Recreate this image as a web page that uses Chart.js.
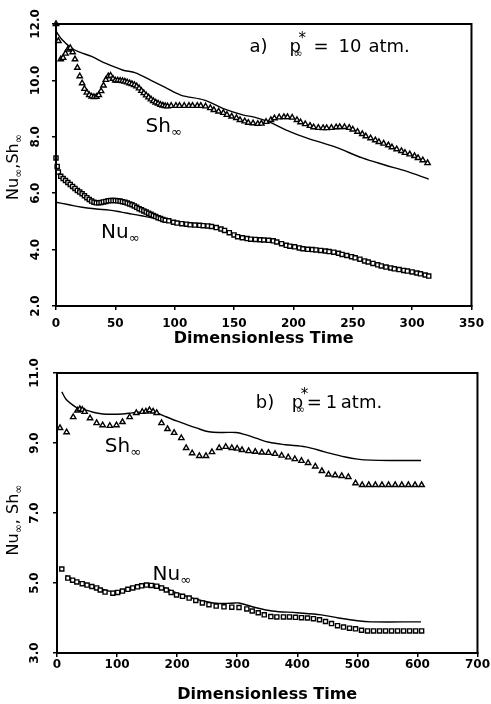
<!DOCTYPE html>
<html><head><meta charset="utf-8">
<script src="https://cdn.jsdelivr.net/npm/chart.js@4.4.1/dist/chart.umd.min.js"></script>
<style>
html,body{margin:0;padding:0;background:#fff;}
canvas{display:block;}
</style></head><body>
<canvas id="ca" width="491" height="352"></canvas>
<canvas id="cb" width="491" height="352"></canvas>
<script>
// ---------- Panel a: p* = 10 atm ----------
const xTicksA = [0, 50, 100, 150, 200, 250, 300, 350];
const yTicksA = [2, 4, 6, 8, 10, 12];
const shA_markT = [0,2,4,6,8,10,12,14,16,18,20,22,24,26,28,30,32,34,36,38,40,42,44,46,48,50,52,54,56,58,60,62,64,66,68,70,72,74,76,78,80,82,84,86,88,90,92,94,
  97,101,104,108,112,115,119,122,126,130,133,137,141,144,148,152,155,159,162,166,170,173,177,181,184,188,192,195,199,203,206,210,214,217,221,225,228,232,236,239,243,247,250,254,258,261,265,269,272,276,280,283,287,291,294,298,302,305,309,313];
const shA_markV = [12.0,11.4,10.75,10.8,10.95,11.1,11.15,11.0,10.75,10.45,10.15,9.9,9.7,9.57,9.48,9.43,9.41,9.42,9.48,9.62,9.82,10.02,10.15,10.17,10.06,10.0,10.0,9.99,9.98,9.96,9.93,9.9,9.87,9.84,9.79,9.72,9.63,9.55,9.47,9.4,9.33,9.27,9.22,9.18,9.14,9.11,9.09,9.08,
  9.1,9.1,9.1,9.1,9.1,9.1,9.1,9.1,9.08,9.02,8.95,8.9,8.85,8.78,8.72,8.67,8.6,8.55,8.5,8.48,8.46,8.47,8.53,8.6,8.66,8.69,8.7,8.7,8.68,8.6,8.52,8.45,8.39,8.34,8.32,8.31,8.31,8.32,8.34,8.35,8.35,8.32,8.26,8.18,8.1,8.02,7.95,7.88,7.82,7.76,7.7,7.63,7.56,7.5,7.43,7.38,7.32,7.25,7.17,7.07];
const shA_lineT = [0,5,13,20,30,42,56,67,80,92,105,125,141,158,167,180,194,211,235,258,277,295,314];
const shA_lineV = [11.75,11.45,11.15,11.0,10.85,10.6,10.37,10.27,10.0,9.75,9.48,9.3,9.0,8.77,8.7,8.52,8.24,7.96,7.64,7.25,7.0,6.78,6.5];
const nuA_markT = [0,1,2,4,6,8,10,12,14,16,18,20,22,24,26,28,30,32,34,36,38,40,42,44,46,48,50,52,54,56,58,60,62,64,66,68,70,72,74,76,78,80,82,84,86,88,90,92,
  95,99,102,106,110,113,117,121,124,128,131,135,139,142,146,150,153,157,161,164,168,172,175,179,183,186,190,194,197,201,205,208,212,216,219,223,227,230,234,238,241,245,249,252,256,260,263,267,271,274,278,282,285,289,293,296,300,304,307,311,314];
const nuA_markV = [7.25,6.95,6.75,6.6,6.52,6.45,6.38,6.31,6.24,6.17,6.1,6.04,5.98,5.91,5.84,5.78,5.72,5.68,5.66,5.66,5.67,5.69,5.71,5.73,5.74,5.74,5.74,5.73,5.72,5.7,5.68,5.65,5.62,5.59,5.55,5.5,5.45,5.41,5.37,5.33,5.29,5.25,5.21,5.17,5.13,5.1,5.07,5.04,
  5.02,4.97,4.94,4.92,4.9,4.88,4.87,4.86,4.85,4.84,4.82,4.78,4.73,4.68,4.6,4.52,4.46,4.42,4.39,4.37,4.36,4.35,4.34,4.33,4.31,4.27,4.21,4.15,4.12,4.1,4.06,4.03,4.01,4.0,3.99,3.97,3.95,3.93,3.91,3.87,3.83,3.79,3.75,3.71,3.66,3.6,3.56,3.51,3.46,3.42,3.38,3.35,3.32,3.29,3.26,3.24,3.21,3.17,3.14,3.1,3.06];
const nuA_lineT = [0,10,22,34,45,55,64,72,80,90,100,115,128,140,150,160,175,185,195,210,225,240,255,270,285,300,314];
const nuA_lineV = [5.68,5.6,5.5,5.44,5.4,5.33,5.26,5.2,5.14,5.05,4.95,4.87,4.83,4.7,4.52,4.4,4.34,4.28,4.14,4.02,3.96,3.84,3.68,3.47,3.32,3.21,3.06];

// ---------- Panel b: p* = 1 atm ----------
const xTicksB = [0, 100, 200, 300, 400, 500, 600, 700];
const yTicksB = [3, 5, 7, 9, 11];
const shB_markT = [5,16,27,34,38,42,46,55,66,76,88,99,109,121,132,142,148,154,160,166,174,184,195,207,215,225,237,248,258,270,281,291,300,308,319,330,341,352,363,374,385,396,407,418,430,441,452,463,474,485,497,508,519,530,541,552,563,574,585,596,607];
const shB_markV = [9.43,9.31,9.74,9.93,9.97,9.95,9.89,9.71,9.57,9.51,9.49,9.51,9.6,9.74,9.86,9.89,9.9,9.94,9.9,9.86,9.57,9.4,9.29,9.14,8.86,8.71,8.63,8.63,8.74,8.86,8.89,8.86,8.84,8.8,8.77,8.75,8.73,8.72,8.69,8.64,8.59,8.54,8.49,8.43,8.33,8.2,8.1,8.08,8.06,8.03,7.85,7.8,7.8,7.8,7.8,7.8,7.8,7.8,7.8,7.8,7.8];
const shB_lineT = [8,15,22,32,43,60,76,92,109,125,142,155,166,180,199,215,232,253,275,298,315,331,353,380,414,447,480,500,523,560,606];
const shB_lineV = [10.46,10.25,10.14,10.02,9.97,9.88,9.83,9.82,9.83,9.86,9.89,9.89,9.86,9.76,9.63,9.53,9.43,9.32,9.3,9.3,9.23,9.14,9.02,8.95,8.89,8.74,8.6,8.54,8.51,8.5,8.5];
const nuB_markT = [8,18,26,33,42,50,58,66,72,80,93,101,109,118,126,134,141,149,157,166,174,182,190,199,209,220,231,242,253,265,278,291,303,316,325,335,345,356,366,377,387,397,407,417,427,437,447,457,467,477,487,497,507,517,527,537,547,557,567,577,587,597,607];
const nuB_markV = [5.4,5.14,5.08,5.03,4.98,4.94,4.9,4.86,4.8,4.74,4.71,4.73,4.77,4.82,4.86,4.89,4.92,4.94,4.93,4.91,4.86,4.8,4.73,4.66,4.62,4.57,4.5,4.43,4.38,4.34,4.32,4.31,4.3,4.26,4.2,4.15,4.09,4.04,4.03,4.03,4.03,4.02,4.01,4.0,3.98,3.95,3.9,3.84,3.78,3.74,3.71,3.69,3.65,3.63,3.63,3.63,3.63,3.63,3.63,3.63,3.63,3.63,3.63];
const nuB_lineT = [15,30,50,70,90,110,130,150,170,190,210,240,265,290,303,330,358,400,440,469,500,523,606];
const nuB_lineV = [5.2,5.08,4.97,4.85,4.76,4.8,4.9,4.97,4.93,4.78,4.65,4.5,4.42,4.42,4.43,4.3,4.2,4.15,4.09,4.0,3.92,3.89,3.89];

const FONT = '"DejaVu Sans", "Liberation Sans", sans-serif';
const pts = (t, v) => t.map((x, i) => ({x: x, y: v[i]}));
const fontStr = s => (s.bold ? 'bold ' : '') + s.size + 'px ' + FONT;

function makeAnnoPlugin(labels, yTitle) {
  return {
    id: 'anno',
    afterDraw(chart) {
      const ctx = chart.ctx, a = chart.chartArea, sc = chart.scales;
      ctx.save();
      ctx.strokeStyle = '#000'; ctx.lineWidth = 2;
      ctx.strokeRect(a.left, a.top, a.right - a.left, a.bottom - a.top);
      ctx.fillStyle = '#000'; ctx.textBaseline = 'alphabetic'; ctx.textAlign = 'left';
      labels.forEach(l => {
        const x0 = sc.x.getPixelForValue(l.x), y0 = sc.y.getPixelForValue(l.y);
        let cx = x0;
        l.segs.forEach(s => {
          ctx.font = fontStr(s);
          if (typeof s.at === 'number') cx = x0 + s.at;
          ctx.fillText(s.t, cx, y0 + (s.dy || 0));
          if (!s.stay) cx += ctx.measureText(s.t).width;
        });
      });
      ctx.translate(yTitle.x, (a.top + a.bottom) / 2 + (yTitle.dyc || 0));
      ctx.rotate(-Math.PI / 2);
      let w = 0;
      yTitle.segs.forEach(s => { ctx.font = fontStr(s); w += ctx.measureText(s.t).width; });
      let cx = -w / 2;
      yTitle.segs.forEach(s => { ctx.font = fontStr(s); ctx.fillText(s.t, cx, s.dy || 0); cx += ctx.measureText(s.t).width; });
      ctx.restore();
    }
  };
}

function makeChart(id, o) {
  const markerTri = {type: 'scatter', data: pts(o.shMT, o.shMV), showLine: false, pointStyle: 'triangle', pointRadius: 3.1, pointBorderWidth: 1.4, pointBorderColor: '#000', pointBackgroundColor: '#fff', order: 1, clip: false};
  const markerSq = {type: 'scatter', data: pts(o.nuMT, o.nuMV), showLine: false, pointStyle: 'rect', pointRadius: 2.9, pointBorderWidth: 1.4, pointBorderColor: '#000', pointBackgroundColor: '#fff', order: 1, clip: false};
  const lineSh = {type: 'scatter', data: pts(o.shLT, o.shLV), showLine: true, borderColor: '#000', borderWidth: 1.4, pointRadius: 0, tension: 0.35, order: 2};
  const lineNu = {type: 'scatter', data: pts(o.nuLT, o.nuLV), showLine: true, borderColor: '#000', borderWidth: 1.4, pointRadius: 0, tension: 0.35, order: 2};
  return new Chart(document.getElementById(id), {
    type: 'scatter',
    data: {datasets: [lineSh, lineNu, markerTri, markerSq]},
    options: {
      responsive: false, animation: false, devicePixelRatio: 1,
      layout: {padding: {left: 0, right: o.padRight, top: o.padTop, bottom: 0}},
      plugins: {legend: {display: false}, tooltip: {enabled: false}},
      scales: {
        x: {type: 'linear', min: o.xTicks[0], max: o.xTicks[o.xTicks.length - 1],
          afterBuildTicks: s => { s.ticks = o.xTicks.map(v => ({value: v})); },
          afterFit: s => { s.height = o.xHeight; },
          ticks: {color: '#000', font: {family: FONT, size: 12, weight: 'bold', lineHeight: 1.2}, padding: o.xPad, maxRotation: 0, callback: v => String(v)},
          grid: {display: true, drawOnChartArea: false, drawTicks: true, tickLength: 4, color: '#000', lineWidth: 1.5},
          border: {display: true, color: '#000', width: 2},
          title: {display: true, text: 'Dimensionless Time', color: '#000', font: {family: FONT, size: 16, weight: 'bold', lineHeight: 1.2}, padding: {top: 0, bottom: o.titlePad}}
        },
        y: {type: 'linear', min: o.yTicks[0], max: o.yTicks[o.yTicks.length - 1],
          afterBuildTicks: s => { s.ticks = o.yTicks.map(v => ({value: v})); },
          afterFit: s => { s.width = o.yWidth; },
          ticks: {color: '#000', font: {family: FONT, size: 12, weight: 'bold'}, padding: o.yPad, minRotation: 90, maxRotation: 90, crossAlign: 'center', callback: v => v.toFixed(1)},
          grid: {display: true, drawOnChartArea: false, drawTicks: true, tickLength: 4, color: '#000', lineWidth: 1.5},
          border: {display: true, color: '#000', width: 2}
        }
      }
    },
    plugins: [makeAnnoPlugin(o.labels, o.yTitle)]
  });
}

makeChart('ca', {
  shMT: shA_markT, shMV: shA_markV, shLT: shA_lineT, shLV: shA_lineV,
  nuMT: nuA_markT, nuMV: nuA_markV, nuLT: nuA_lineT, nuLV: nuA_lineV,
  xTicks: xTicksA, yTicks: yTicksA, padRight: 13, padTop: 24, xHeight: 46, yWidth: 56, xPad: 7, yPad: 1, titlePad: 4,
  labels: [
    {x: 163, y: 11.0, segs: [{t: 'a)', size: 18, at: 0}, {t: 'p', size: 18, at: 40}, {t: '*', size: 15, at: 49, dy: -9}, {t: '∞', size: 11, at: 44, dy: 5}, {t: '=', size: 18, at: 64}, {t: '10', size: 18, at: 89}, {t: 'atm.', size: 18, at: 119}]},
    {x: 75.5, y: 8.17, segs: [{t: 'Sh', size: 20, at: 0}, {t: '∞', size: 13, dy: 4}]},
    {x: 38, y: 4.41, segs: [{t: 'Nu', size: 20, at: 0}, {t: '∞', size: 13, dy: 4}]}
  ],
  yTitle: {x: 18, dyc: 2, segs: [{t: 'Nu', size: 16}, {t: '∞', size: 11, dy: 4}, {t: ',', size: 16}, {t: 'Sh', size: 16}, {t: '∞', size: 11, dy: 4}]}
});
makeChart('cb', {
  shMT: shB_markT, shMV: shB_markV, shLT: shB_lineT, shLV: shB_lineV,
  nuMT: nuB_markT, nuMV: nuB_markV, nuLT: nuB_lineT, nuLV: nuB_lineV,
  xTicks: xTicksB, yTicks: yTicksB, padRight: 10, padTop: 21, xHeight: 51, yWidth: 57, xPad: 1, yPad: 3, titlePad: 0,
  labels: [
    {x: 331, y: 10.0, segs: [{t: 'b)', size: 18, at: 0}, {t: 'p', size: 18, at: 36}, {t: '*', size: 15, at: 45, dy: -9}, {t: '∞', size: 11, at: 40, dy: 5}, {t: '=', size: 18, at: 51}, {t: '1', size: 18, at: 70}, {t: 'atm.', size: 18, at: 85}]},
    {x: 79.5, y: 8.74, segs: [{t: 'Sh', size: 20, at: 0}, {t: '∞', size: 13, dy: 4}]},
    {x: 159, y: 5.09, segs: [{t: 'Nu', size: 20, at: 0}, {t: '∞', size: 13, dy: 4}]}
  ],
  yTitle: {x: 18, dyc: 7, segs: [{t: 'Nu', size: 16}, {t: '∞', size: 11, dy: 4}, {t: ', ', size: 16}, {t: 'Sh', size: 16}, {t: '∞', size: 11, dy: 4}]}
});
</script></body></html>
